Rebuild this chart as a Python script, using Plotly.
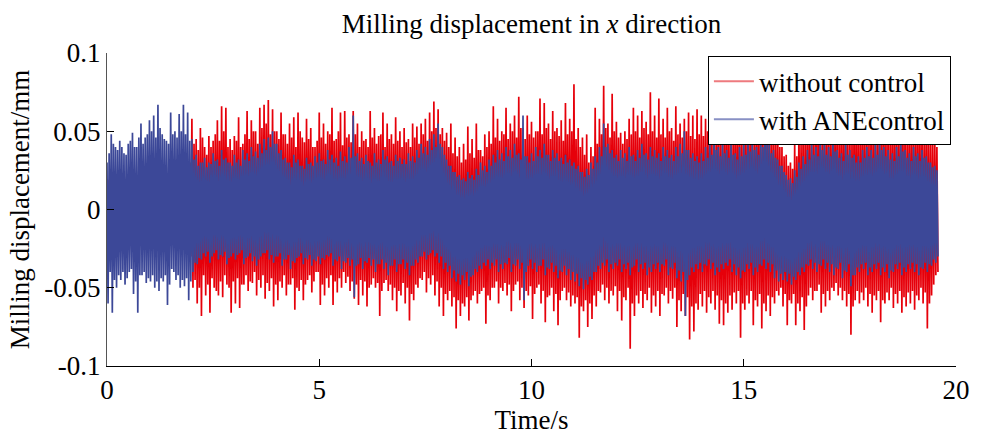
import plotly.graph_objects as go

# ---------------- data (mm vs s) ----------------
dt = 0.1
t_env = [round(i * dt, 1) for i in range(196)]  # 0.0 ... 19.5 s

# main peaks at t
red_up = [0.018,0.020,0.017,0.019,0.020,0.018,0.021,0.019,0.020,0.018,
          0.020,0.021,0.019,0.020,0.018,0.021,0.020,0.019,0.021,0.020,
          0.058,0.045,0.052,0.040,0.047,0.044,0.057,0.066,0.065,0.045,
          0.047,0.059,0.042,0.063,0.057,0.050,0.065,0.067,0.070,0.064,
          0.050,0.062,0.048,0.055,0.059,0.062,0.046,0.058,0.052,0.040,
          0.062,0.055,0.050,0.065,0.045,0.062,0.063,0.048,0.063,0.055,
          0.050,0.045,0.063,0.052,0.047,0.062,0.055,0.048,0.059,0.050,
          0.052,0.045,0.055,0.053,0.055,0.058,0.062,0.069,0.064,0.052,
          0.049,0.055,0.046,0.040,0.042,0.053,0.045,0.055,0.038,0.048,
          0.050,0.066,0.058,0.050,0.065,0.055,0.060,0.072,0.052,0.060,
          0.056,0.050,0.071,0.068,0.055,0.063,0.052,0.057,0.068,0.058,
          0.080,0.052,0.046,0.048,0.040,0.065,0.058,0.079,0.055,0.074,
          0.056,0.049,0.050,0.058,0.065,0.060,0.063,0.056,0.075,0.060,
          0.071,0.058,0.065,0.052,0.066,0.055,0.058,0.062,0.060,0.064,
          0.060,0.058,0.065,0.055,0.062,0.058,0.066,0.057,0.063,0.060,
          0.058,0.064,0.056,0.062,0.058,0.065,0.060,0.056,0.054,0.040,
          0.035,0.030,0.042,0.055,0.060,0.062,0.056,0.063,0.059,0.061,
          0.058,0.064,0.057,0.062,0.060,0.055,0.063,0.058,0.061,0.056,
          0.062,0.057,0.060,0.064,0.055,0.061,0.058,0.063,0.056,0.060,
          0.057,0.062,0.055,0.060,0.047,0.045]

red_lo = [-0.018,-0.020,-0.019,-0.021,-0.018,-0.020,-0.019,-0.021,-0.020,-0.018,
          -0.020,-0.019,-0.021,-0.020,-0.018,-0.020,-0.021,-0.019,-0.020,-0.021,
          -0.050,-0.060,-0.068,-0.055,-0.066,-0.050,-0.055,-0.056,-0.048,-0.066,
          -0.060,-0.063,-0.048,-0.052,-0.047,-0.055,-0.050,-0.057,-0.052,-0.062,
          -0.058,-0.050,-0.055,-0.048,-0.064,-0.052,-0.058,-0.045,-0.053,-0.040,
          -0.061,-0.055,-0.050,-0.061,-0.053,-0.050,-0.047,-0.052,-0.057,-0.061,
          -0.055,-0.062,-0.048,-0.050,-0.068,-0.047,-0.052,-0.058,-0.065,-0.055,
          -0.060,-0.071,-0.058,-0.050,-0.045,-0.053,-0.048,-0.055,-0.062,-0.068,
          -0.058,-0.062,-0.076,-0.068,-0.062,-0.071,-0.055,-0.060,-0.052,-0.073,
          -0.058,-0.050,-0.060,-0.052,-0.055,-0.065,-0.048,-0.058,-0.063,-0.055,
          -0.070,-0.050,-0.060,-0.072,-0.055,-0.065,-0.074,-0.052,-0.058,-0.062,
          -0.060,-0.082,-0.065,-0.075,-0.070,-0.062,-0.053,-0.058,-0.060,-0.055,
          -0.065,-0.071,-0.058,-0.089,-0.068,-0.060,-0.063,-0.058,-0.066,-0.062,
          -0.068,-0.055,-0.060,-0.057,-0.075,-0.065,-0.068,-0.083,-0.078,-0.064,
          -0.062,-0.066,-0.060,-0.064,-0.073,-0.074,-0.066,-0.064,-0.060,-0.082,
          -0.064,-0.060,-0.074,-0.062,-0.076,-0.065,-0.068,-0.060,-0.055,-0.062,
          -0.074,-0.060,-0.074,-0.065,-0.077,-0.055,-0.058,-0.052,-0.066,-0.062,
          -0.058,-0.052,-0.055,-0.058,-0.062,-0.080,-0.058,-0.060,-0.058,-0.062,
          -0.066,-0.058,-0.072,-0.060,-0.058,-0.063,-0.060,-0.066,-0.062,-0.060,
          -0.064,-0.058,-0.060,-0.076,-0.055,-0.042]

# in-between peaks at t + 0.05
red_up2 = [0.019,0.018,0.020,0.018,0.019,0.021,0.018,0.020,0.019,0.021,
           0.019,0.020,0.018,0.021,0.019,0.020,0.018,0.021,0.019,0.030,
           0.042,0.038,0.046,0.035,0.040,0.048,0.044,0.050,0.040,0.038,
           0.044,0.040,0.048,0.045,0.050,0.042,0.052,0.055,0.048,0.050,
           0.045,0.048,0.042,0.046,0.040,0.050,0.043,0.045,0.040,0.044,
           0.046,0.042,0.048,0.044,0.050,0.041,0.046,0.043,0.048,0.040,
           0.044,0.040,0.046,0.042,0.048,0.040,0.045,0.042,0.044,0.040,
           0.043,0.040,0.046,0.042,0.048,0.044,0.050,0.052,0.048,0.044,
           0.040,0.036,0.034,0.030,0.032,0.036,0.033,0.038,0.034,0.040,
           0.042,0.046,0.044,0.048,0.045,0.050,0.046,0.052,0.045,0.048,
           0.046,0.050,0.048,0.052,0.045,0.050,0.047,0.044,0.048,0.050,
           0.045,0.040,0.035,0.030,0.034,0.042,0.048,0.052,0.046,0.050,
           0.046,0.042,0.045,0.048,0.050,0.046,0.052,0.048,0.050,0.046,
           0.048,0.046,0.050,0.044,0.048,0.046,0.050,0.047,0.045,0.048,
           0.047,0.050,0.046,0.049,0.045,0.048,0.050,0.046,0.048,0.045,
           0.048,0.050,0.046,0.052,0.048,0.050,0.046,0.044,0.040,0.034,
           0.028,0.026,0.034,0.042,0.046,0.048,0.045,0.050,0.046,0.048,
           0.046,0.050,0.045,0.048,0.044,0.047,0.050,0.046,0.048,0.045,
           0.048,0.045,0.050,0.047,0.044,0.048,0.046,0.050,0.045,0.047,
           0.046,0.049,0.044,0.047,0.042,0.040]

red_lo2 = [-0.019,-0.020,-0.018,-0.021,-0.019,-0.020,-0.018,-0.021,-0.019,-0.020,
           -0.018,-0.021,-0.019,-0.020,-0.018,-0.021,-0.019,-0.020,-0.018,-0.030,
           -0.045,-0.050,-0.042,-0.048,-0.044,-0.052,-0.046,-0.042,-0.050,-0.046,
           -0.044,-0.048,-0.042,-0.046,-0.040,-0.045,-0.042,-0.047,-0.044,-0.048,
           -0.046,-0.042,-0.048,-0.044,-0.050,-0.045,-0.048,-0.042,-0.046,-0.040,
           -0.048,-0.044,-0.042,-0.046,-0.044,-0.040,-0.043,-0.046,-0.048,-0.045,
           -0.046,-0.050,-0.044,-0.047,-0.052,-0.045,-0.048,-0.050,-0.052,-0.047,
           -0.050,-0.054,-0.048,-0.044,-0.040,-0.044,-0.042,-0.046,-0.050,-0.054,
           -0.052,-0.056,-0.058,-0.060,-0.056,-0.058,-0.052,-0.054,-0.050,-0.055,
           -0.050,-0.046,-0.050,-0.047,-0.048,-0.052,-0.046,-0.050,-0.052,-0.049,
           -0.054,-0.048,-0.052,-0.056,-0.050,-0.054,-0.058,-0.050,-0.053,-0.055,
           -0.056,-0.062,-0.058,-0.060,-0.055,-0.052,-0.048,-0.050,-0.052,-0.049,
           -0.052,-0.056,-0.050,-0.060,-0.055,-0.052,-0.054,-0.050,-0.055,-0.052,
           -0.054,-0.050,-0.052,-0.050,-0.058,-0.054,-0.056,-0.062,-0.060,-0.054,
           -0.052,-0.056,-0.052,-0.055,-0.058,-0.060,-0.055,-0.053,-0.052,-0.060,
           -0.055,-0.052,-0.058,-0.054,-0.060,-0.055,-0.056,-0.052,-0.050,-0.054,
           -0.058,-0.054,-0.060,-0.056,-0.062,-0.050,-0.052,-0.048,-0.054,-0.052,
           -0.050,-0.047,-0.050,-0.052,-0.054,-0.062,-0.052,-0.053,-0.050,-0.054,
           -0.055,-0.052,-0.058,-0.053,-0.050,-0.054,-0.052,-0.056,-0.053,-0.052,
           -0.055,-0.050,-0.053,-0.060,-0.048,-0.040]

blue_up = [0.030,0.048,0.040,0.044,0.036,0.042,0.049,0.040,0.055,0.046,
           0.057,0.060,0.067,0.048,0.044,0.062,0.050,0.061,0.067,0.062,
           0.045,0.035,0.030,0.033,0.030,0.036,0.032,0.038,0.033,0.030,
           0.035,0.032,0.038,0.036,0.040,0.037,0.042,0.045,0.046,0.050,
           0.042,0.038,0.033,0.030,0.035,0.032,0.028,0.033,0.030,0.034,
           0.036,0.032,0.038,0.035,0.033,0.037,0.034,0.040,0.060,0.036,
           0.033,0.035,0.030,0.036,0.032,0.038,0.034,0.031,0.035,0.033,
           0.032,0.036,0.034,0.038,0.042,0.040,0.045,0.048,0.055,0.040,
           0.032,0.028,0.024,0.022,0.020,0.024,0.022,0.026,0.030,0.028,
           0.032,0.035,0.038,0.036,0.040,0.038,0.042,0.036,0.060,0.034,
           0.036,0.040,0.038,0.042,0.035,0.038,0.036,0.033,0.035,0.032,
           0.030,0.028,0.024,0.026,0.030,0.034,0.040,0.055,0.042,0.038,
           0.035,0.038,0.036,0.040,0.035,0.038,0.042,0.036,0.040,0.038,
           0.036,0.040,0.038,0.035,0.040,0.042,0.050,0.038,0.036,0.034,
           0.036,0.040,0.042,0.046,0.040,0.044,0.038,0.042,0.036,0.040,
           0.042,0.044,0.046,0.040,0.048,0.052,0.042,0.038,0.032,0.028,
           0.022,0.020,0.025,0.030,0.034,0.038,0.042,0.040,0.046,0.042,
           0.040,0.044,0.038,0.036,0.042,0.038,0.035,0.034,0.038,0.040,
           0.038,0.042,0.046,0.040,0.038,0.036,0.040,0.044,0.038,0.036,
           0.040,0.036,0.038,0.034,0.030,0.028]

blue_lo = [-0.060,-0.066,-0.050,-0.045,-0.048,-0.040,-0.054,-0.066,-0.042,-0.047,
           -0.046,-0.050,-0.052,-0.046,-0.061,-0.038,-0.045,-0.050,-0.049,-0.058,
           -0.040,-0.035,-0.032,-0.030,-0.034,-0.028,-0.032,-0.030,-0.035,-0.030,
           -0.032,-0.028,-0.035,-0.030,-0.033,-0.036,-0.030,-0.028,-0.032,-0.034,
           -0.030,-0.036,-0.032,-0.038,-0.034,-0.030,-0.035,-0.032,-0.036,-0.033,
           -0.035,-0.032,-0.030,-0.036,-0.033,-0.038,-0.034,-0.036,-0.056,-0.035,
           -0.038,-0.034,-0.036,-0.040,-0.035,-0.038,-0.042,-0.036,-0.040,-0.035,
           -0.038,-0.042,-0.036,-0.034,-0.030,-0.032,-0.028,-0.030,-0.034,-0.038,
           -0.040,-0.044,-0.046,-0.048,-0.045,-0.049,-0.042,-0.040,-0.038,-0.036,
           -0.038,-0.036,-0.040,-0.038,-0.035,-0.040,-0.036,-0.038,-0.058,-0.036,
           -0.038,-0.040,-0.036,-0.042,-0.038,-0.040,-0.044,-0.040,-0.042,-0.045,
           -0.046,-0.049,-0.051,-0.048,-0.045,-0.040,-0.038,-0.036,-0.040,-0.038,
           -0.036,-0.040,-0.038,-0.042,-0.036,-0.040,-0.038,-0.042,-0.040,-0.038,
           -0.040,-0.036,-0.042,-0.038,-0.044,-0.046,-0.068,-0.042,-0.040,-0.038,
           -0.040,-0.036,-0.038,-0.042,-0.040,-0.038,-0.036,-0.040,-0.042,-0.044,
           -0.040,-0.038,-0.042,-0.040,-0.036,-0.038,-0.040,-0.044,-0.046,-0.045,
           -0.046,-0.048,-0.045,-0.042,-0.040,-0.036,-0.038,-0.040,-0.036,-0.038,
           -0.040,-0.042,-0.038,-0.044,-0.040,-0.049,-0.042,-0.040,-0.038,-0.042,
           -0.040,-0.038,-0.042,-0.040,-0.044,-0.040,-0.038,-0.042,-0.040,-0.038,
           -0.040,-0.042,-0.038,-0.040,-0.036,-0.034]

blue_up2 = [0.036,0.042,0.038,0.040,0.035,0.044,0.040,0.046,0.042,0.048,
            0.050,0.046,0.052,0.045,0.042,0.048,0.046,0.050,0.048,0.044,
            0.032,0.028,0.030,0.027,0.029,0.031,0.028,0.032,0.030,0.028,
            0.030,0.028,0.032,0.031,0.034,0.033,0.036,0.038,0.040,0.042,
            0.036,0.032,0.030,0.027,0.030,0.028,0.026,0.029,0.028,0.030,
            0.031,0.029,0.032,0.030,0.028,0.031,0.030,0.033,0.034,0.031,
            0.029,0.031,0.028,0.030,0.029,0.032,0.030,0.028,0.031,0.029,
            0.029,0.031,0.030,0.033,0.036,0.035,0.038,0.040,0.042,0.035,
            0.028,0.024,0.021,0.019,0.018,0.020,0.019,0.022,0.025,0.024,
            0.028,0.030,0.032,0.031,0.034,0.033,0.035,0.032,0.034,0.030,
            0.031,0.034,0.033,0.035,0.031,0.033,0.031,0.029,0.030,0.028,
            0.026,0.024,0.021,0.022,0.026,0.030,0.034,0.040,0.036,0.033,
            0.031,0.033,0.031,0.034,0.031,0.033,0.035,0.032,0.034,0.033,
            0.031,0.034,0.033,0.031,0.034,0.036,0.038,0.033,0.031,0.030,
            0.031,0.033,0.035,0.038,0.034,0.036,0.033,0.035,0.032,0.034,
            0.035,0.037,0.038,0.035,0.040,0.042,0.036,0.033,0.028,0.024,
            0.019,0.017,0.021,0.026,0.029,0.032,0.035,0.034,0.038,0.035,
            0.034,0.037,0.033,0.031,0.035,0.033,0.030,0.030,0.033,0.034,
            0.033,0.035,0.038,0.034,0.032,0.031,0.034,0.037,0.033,0.031,
            0.034,0.031,0.033,0.030,0.027,0.025]

blue_lo2 = [-0.040,-0.045,-0.042,-0.040,-0.044,-0.038,-0.046,-0.042,-0.040,-0.044,
            -0.042,-0.046,-0.044,-0.042,-0.048,-0.040,-0.042,-0.045,-0.044,-0.046,
            -0.034,-0.031,-0.028,-0.027,-0.030,-0.026,-0.029,-0.027,-0.031,-0.028,
            -0.029,-0.026,-0.031,-0.028,-0.030,-0.032,-0.028,-0.026,-0.029,-0.030,
            -0.028,-0.032,-0.029,-0.033,-0.031,-0.028,-0.031,-0.029,-0.032,-0.030,
            -0.031,-0.029,-0.028,-0.032,-0.030,-0.033,-0.031,-0.032,-0.036,-0.031,
            -0.033,-0.031,-0.032,-0.035,-0.032,-0.034,-0.036,-0.032,-0.035,-0.032,
            -0.034,-0.036,-0.032,-0.030,-0.027,-0.029,-0.026,-0.028,-0.030,-0.034,
            -0.036,-0.039,-0.041,-0.042,-0.040,-0.043,-0.038,-0.036,-0.034,-0.032,
            -0.034,-0.032,-0.035,-0.034,-0.031,-0.035,-0.032,-0.034,-0.040,-0.032,
            -0.034,-0.036,-0.032,-0.037,-0.034,-0.036,-0.039,-0.036,-0.038,-0.040,
            -0.041,-0.044,-0.045,-0.043,-0.040,-0.036,-0.034,-0.032,-0.035,-0.034,
            -0.032,-0.035,-0.034,-0.037,-0.032,-0.035,-0.034,-0.037,-0.035,-0.034,
            -0.035,-0.032,-0.037,-0.034,-0.039,-0.040,-0.045,-0.037,-0.035,-0.034,
            -0.035,-0.032,-0.034,-0.037,-0.035,-0.034,-0.032,-0.035,-0.037,-0.039,
            -0.035,-0.034,-0.037,-0.035,-0.032,-0.034,-0.035,-0.039,-0.041,-0.040,
            -0.041,-0.043,-0.040,-0.037,-0.035,-0.032,-0.034,-0.035,-0.032,-0.034,
            -0.035,-0.037,-0.034,-0.039,-0.035,-0.042,-0.037,-0.035,-0.034,-0.037,
            -0.035,-0.034,-0.037,-0.035,-0.039,-0.035,-0.034,-0.037,-0.035,-0.034,
            -0.035,-0.037,-0.034,-0.035,-0.032,-0.030]

x_ticks = [0, 5, 10, 15, 20]
y_ticks = [-0.1, -0.05, 0, 0.05, 0.1]
y_ticktext = ["-0.1", "-0.05", "0", "0.05", "0.1"]

RED = "#E6000A"
BLUE = "#3C4898"
RED_LEG = "#EE7A7E"
BLUE_LEG = "#8890C4"
FONT = "Liberation Serif"
FS = 27


def zigzag(t, up, lo, up2, lo2):
    xs, ys = [], []
    q = dt / 4
    for ti, a, b, c, d in zip(t, up, lo, up2, lo2):
        xs += [ti, ti + q, ti + 2 * q, ti + 3 * q]
        ys += [a, b, c, d]
    return xs, ys


fig = go.Figure()

zx, zy = zigzag(t_env, red_up, red_lo, red_up2, red_lo2)
fig.add_trace(go.Scatter(x=zx, y=zy, mode="lines", showlegend=False,
                         line=dict(color=RED, width=1.7)))

zx, zy = zigzag(t_env, blue_up, blue_lo, blue_up2, blue_lo2)
fig.add_trace(go.Scatter(x=zx, y=zy, mode="lines", showlegend=False,
                         line=dict(color=BLUE, width=1.7)))

# legend entries
fig.add_trace(go.Scatter(x=[None], y=[None], mode="lines", name="without control",
                         line=dict(color=RED_LEG, width=2)))
fig.add_trace(go.Scatter(x=[None], y=[None], mode="lines", name="with ANEcontrol",
                         line=dict(color=BLUE_LEG, width=2)))

fig.update_layout(
    width=986, height=438, autosize=False,
    margin=dict(l=107, r=30, t=53, b=63),
    paper_bgcolor="white", plot_bgcolor="white",
    font=dict(family=FONT, size=FS, color="black"),
    title=dict(text="Milling displacement in <i>x</i> direction",
               x=0.5, xref="paper", xanchor="center",
               y=1 - 24 / 438, yref="container", yanchor="middle",
               font=dict(family=FONT, size=FS, color="black")),
    showlegend=True,
    legend=dict(x=0.994, xanchor="right", y=0.99, yanchor="top",
                bgcolor="white", bordercolor="black", borderwidth=1,
                font=dict(family=FONT, size=FS, color="black"),
                tracegroupgap=0, itemwidth=40),
    xaxis=dict(range=[0, 20], tickvals=x_ticks, ticktext=[str(v) for v in x_ticks],
               ticks="inside", ticklen=7, tickcolor="black", tickwidth=1,
               showline=True, linecolor="black", linewidth=1,
               showgrid=False, zeroline=False,
               title=dict(text="Time/s", standoff=2,
                          font=dict(family=FONT, size=FS, color="black")),
               tickfont=dict(family=FONT, size=FS, color="black")),
    yaxis=dict(range=[-0.1, 0.1], tickvals=y_ticks, ticktext=y_ticktext,
               ticks="inside", ticklen=7, tickcolor="black", tickwidth=1,
               showline=True, linecolor="#555555", linewidth=1,
               showgrid=False, zeroline=False,
               title=dict(text="Milling displacement/mm", standoff=6,
                          font=dict(family=FONT, size=FS, color="black")),
               tickfont=dict(family=FONT, size=FS, color="black")),
)

fig.write_html("out.html")
